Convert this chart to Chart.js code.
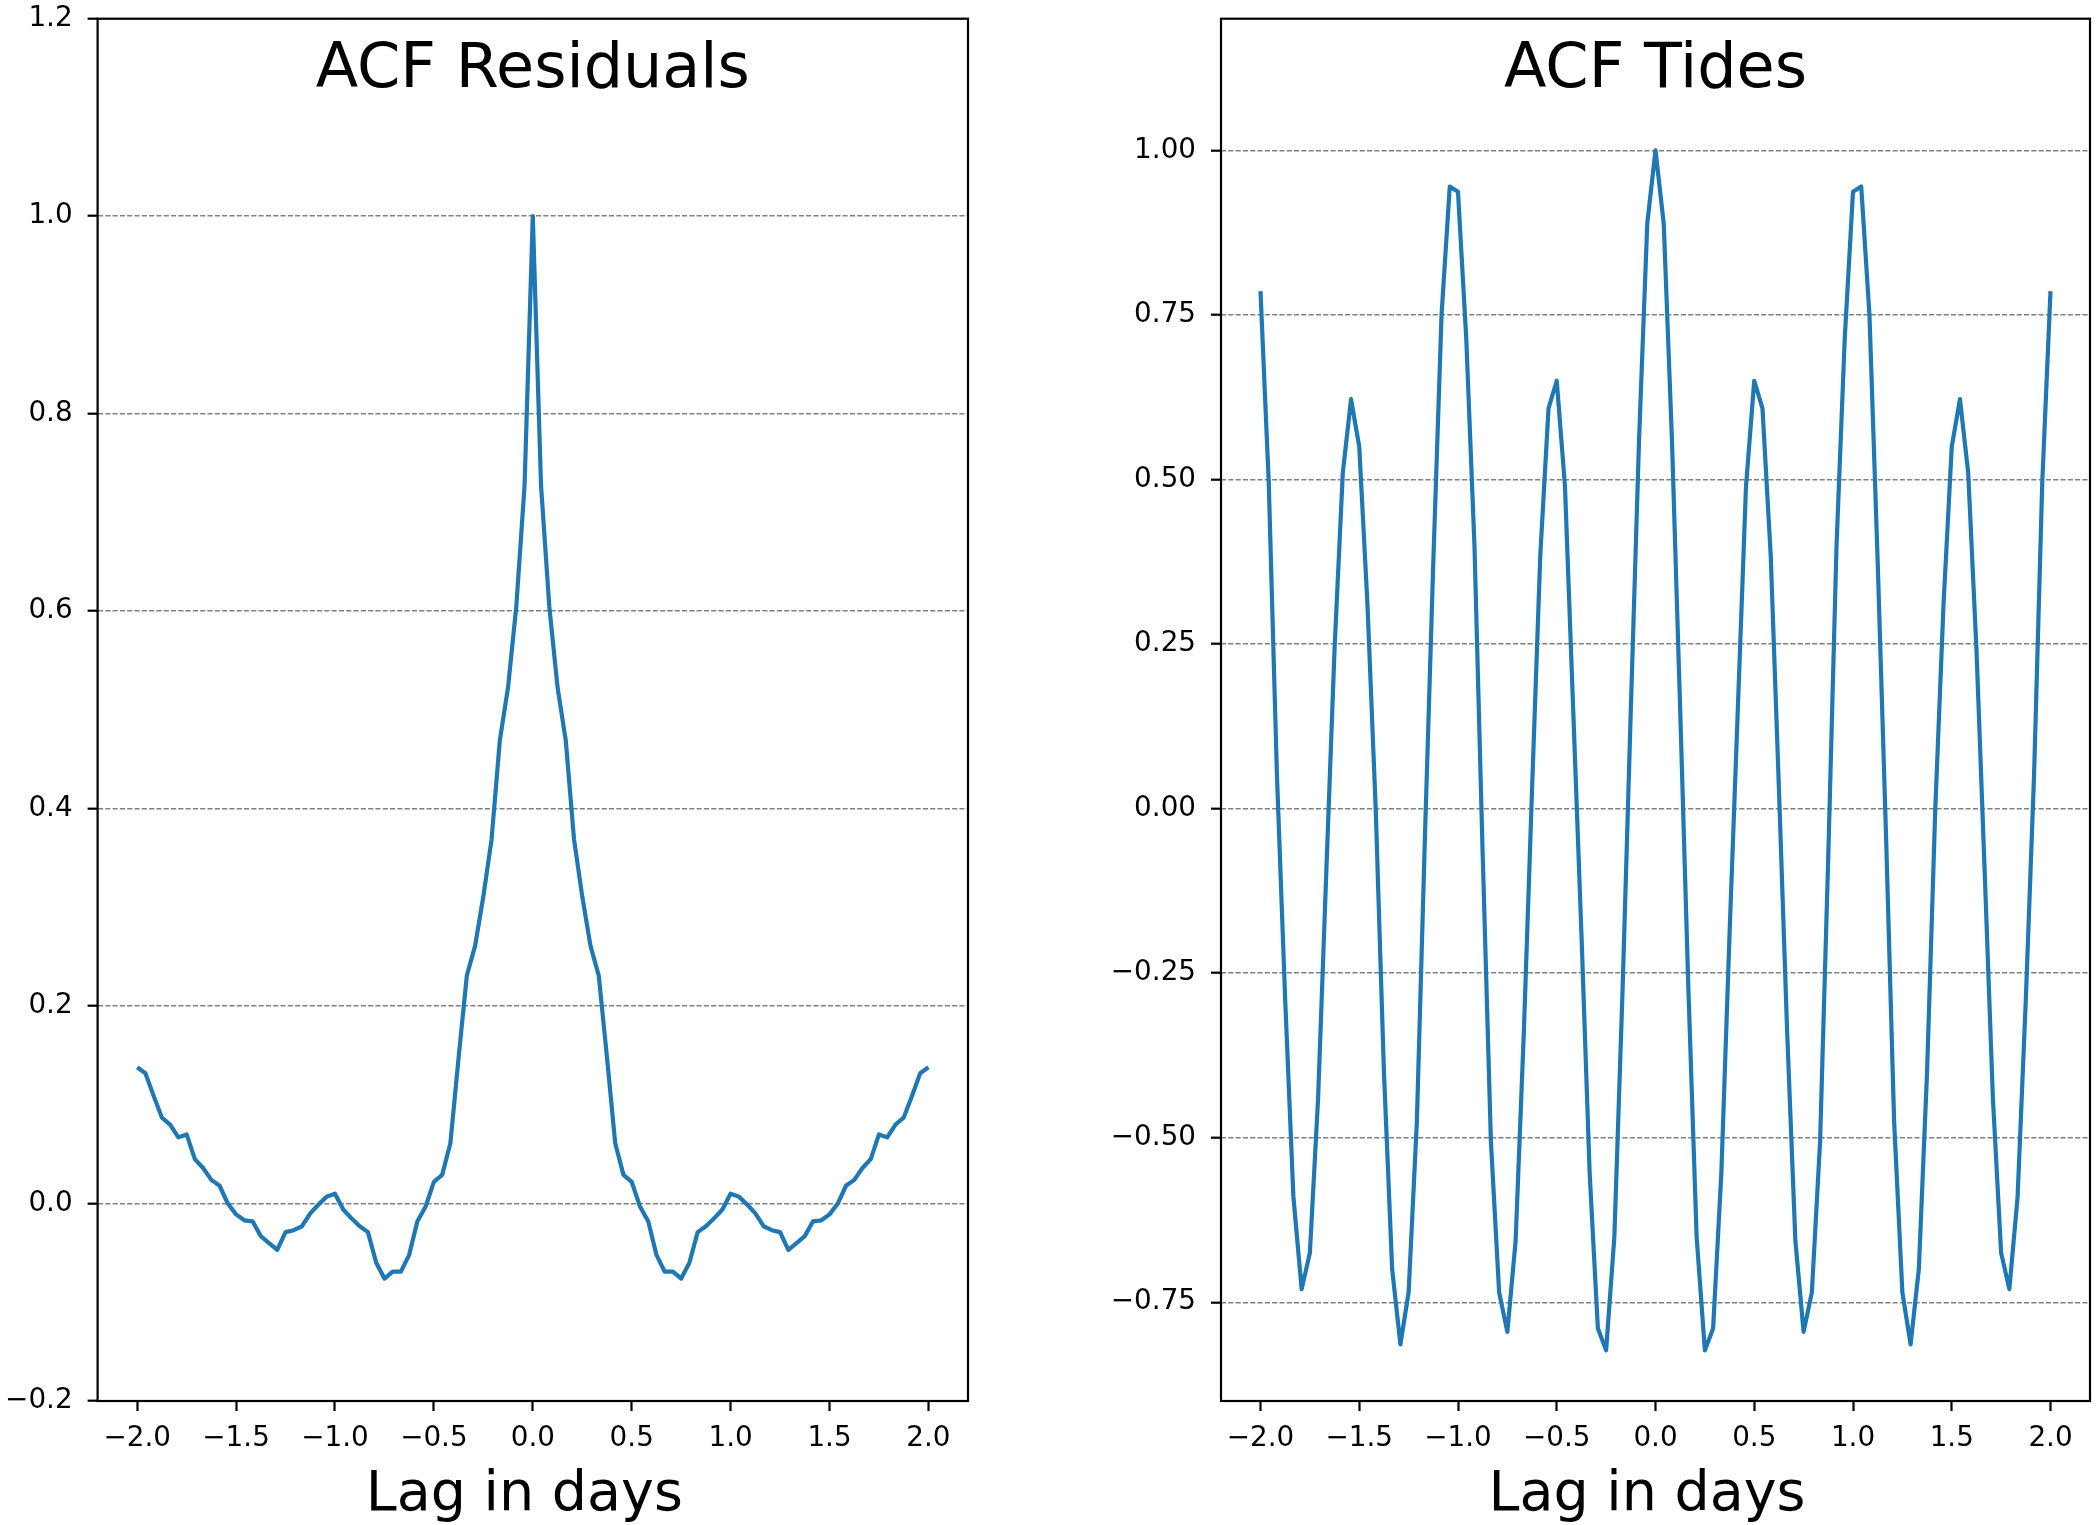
<!DOCTYPE html>
<html>
<head>
<meta charset="utf-8">
<script src="https://cdn.jsdelivr.net/npm/chart.js@4.4.1/dist/chart.umd.min.js"></script>
<style>
  html, body { margin: 0; padding: 0; background: #fff; }
  #wrap { position: relative; width: 2097px; height: 1525px; overflow: hidden; }
  canvas { position: absolute; top: 0; }
</style>
</head>
<body>
<div id="wrap">
  <canvas id="acfResiduals" width="1050" height="1525" style="left:0;width:1050px;height:1525px"></canvas>
  <canvas id="acfTides" width="1047" height="1525" style="left:1050px;width:1047px;height:1525px"></canvas>
</div>
<script>
// lag in hours (hourly samples, -2 .. +2 days)
var lagHours = [-48, -47, -46, -45, -44, -43, -42, -41, -40, -39, -38, -37, -36, -35, -34, -33,
    -32, -31, -30, -29, -28, -27, -26, -25, -24, -23, -22, -21, -20, -19, -18, -17,
    -16, -15, -14, -13, -12, -11, -10, -9, -8, -7, -6, -5, -4, -3, -2, -1,
    0, 1, 2, 3, 4, 5, 6, 7, 8, 9, 10, 11, 12, 13, 14, 15, 16,
    17, 18, 19, 20, 21, 22, 23, 24, 25, 26, 27, 28, 29, 30, 31, 32,
    33, 34, 35, 36, 37, 38, 39, 40, 41, 42, 43, 44, 45, 46, 47, 48];

var acfResiduals = [0.138, 0.132, 0.109, 0.087, 0.080, 0.067, 0.070, 0.045, 0.036, 0.024, 0.018, 0.000,
    -0.011, -0.017, -0.018, -0.033, -0.040, -0.047, -0.029, -0.027, -0.023, -0.010, -0.001, 0.007,
    0.010, -0.006, -0.015, -0.023, -0.029, -0.060, -0.076, -0.069, -0.069, -0.052, -0.018, -0.003,
    0.022, 0.029, 0.061, 0.148, 0.231, 0.261, 0.311, 0.369, 0.469, 0.523, 0.605, 0.727,
    1.000,
    0.727, 0.605, 0.523, 0.469, 0.369, 0.311, 0.261, 0.231, 0.148, 0.061, 0.029, 0.022,
    -0.003, -0.018, -0.052, -0.069, -0.069, -0.076, -0.060, -0.029, -0.023, -0.015, -0.006, 0.010,
    0.007, -0.001, -0.010, -0.023, -0.027, -0.029, -0.047, -0.040, -0.033, -0.018, -0.017, -0.011,
    0.000, 0.018, 0.024, 0.036, 0.045, 0.070, 0.067, 0.080, 0.087, 0.109, 0.132, 0.138];

var acfTides = [0.786, 0.496, 0.050, -0.290, -0.590, -0.730, -0.675, -0.440, -0.095, 0.243, 0.510, 0.622,
    0.550, 0.310, 0.000, -0.400, -0.700, -0.814, -0.735, -0.476, -0.035, 0.375, 0.750, 0.945,
    0.937, 0.715, 0.400, -0.070, -0.506, -0.735, -0.795, -0.657, -0.340, 0.030, 0.385, 0.608,
    0.650, 0.490, 0.150, -0.190, -0.554, -0.790, -0.823, -0.651, -0.275, 0.150, 0.560, 0.889,
    1.000,
    0.889, 0.560, 0.150, -0.275, -0.651, -0.823, -0.790, -0.554, -0.190, 0.150, 0.490, 0.650,
    0.608, 0.385, 0.030, -0.340, -0.657, -0.795, -0.735, -0.506, -0.070, 0.400, 0.715, 0.937,
    0.945, 0.750, 0.375, -0.035, -0.476, -0.735, -0.814, -0.700, -0.400, 0.000, 0.310, 0.550,
    0.622, 0.510, 0.243, -0.095, -0.440, -0.675, -0.730, -0.590, -0.290, 0.050, 0.496, 0.786];

var xTicks = [-2.0, -1.5, -1.0, -0.5, 0.0, 0.5, 1.0, 1.5, 2.0];
var yTicksResiduals = [-0.2, 0.0, 0.2, 0.4, 0.6, 0.8, 1.0, 1.2];
var yTicksTides = [-0.75, -0.5, -0.25, 0.0, 0.25, 0.5, 0.75, 1.0];

var FONT = "'DejaVu Sans', 'Liberation Sans', sans-serif";

function fmt(v, d) {
    return v.toFixed(d).replace('-', '\u2212');
}

// titles inside the axes + full black frame, like matplotlib
var framePlugin = {
    id: 'frame',
    afterDraw: function (chart, args, opts) {
        var a = chart.chartArea, ctx = chart.ctx;
        var cx = (a.left + a.right) / 2;
        ctx.save();
        ctx.strokeStyle = '#000';
        ctx.lineWidth = 2.2;
        ctx.strokeRect(a.left, a.top, a.right - a.left, a.bottom - a.top);
        ctx.fillStyle = '#000';
        ctx.textAlign = 'center';
        ctx.textBaseline = 'alphabetic';
        ctx.font = '62px ' + FONT;
        ctx.fillText(opts.title, cx, 87);
        ctx.font = '55.5px ' + FONT;
        ctx.fillText(opts.xlabel, cx - 8.5, 1510);
        ctx.restore();
    }
};

function makeChart(id, title, values, yTicks, yMin, yMax, dec, yWidth, padRight) {
    var points = lagHours.map(function (h, i) { return {x: h / 24, y: values[i]}; });
    return new Chart(document.getElementById(id), {
        type: 'line',
        data: {
            datasets: [{
                data: points,
                borderColor: '#1f77b4',
                borderWidth: 4.2,
                borderJoinStyle: 'round',
                pointRadius: 0,
                tension: 0,
                fill: false
            }]
        },
        options: {
            responsive: false,
            animation: false,
            layout: {padding: {left: 0, right: padRight, top: 18.7, bottom: 0}},
            plugins: {
                legend: {display: false},
                tooltip: {enabled: false},
                frame: {title: title, xlabel: 'Lag in days'}
            },
            scales: {
                x: {
                    type: 'linear',
                    min: -2.2,
                    max: 2.2,
                    afterBuildTicks: function (s) { s.ticks = xTicks.map(function (v) { return {value: v}; }); },
                    afterFit: function (s) { s.height = 124; s.paddingLeft = 0; s.paddingRight = 0; },
                    border: {display: false},
                    grid: {drawOnChartArea: false, drawTicks: true, tickLength: 10, tickColor: '#000', tickWidth: 2.2},
                    ticks: {
                        font: {family: FONT, size: 27.8},
                        color: '#000',
                        padding: 11,
                        maxRotation: 0,
                        callback: function (v) { return fmt(v, 1); }
                    }
                },
                y: {
                    type: 'linear',
                    min: yMin,
                    max: yMax,
                    afterBuildTicks: function (s) { s.ticks = yTicks.map(function (v) { return {value: v}; }); },
                    afterFit: function (s) { s.width = yWidth; s.paddingTop = 0; s.paddingBottom = 0; },
                    border: {display: false, dash: [5.1, 2.2]},
                    grid: {
                        color: '#808080',
                        lineWidth: 1.4,
                        tickLength: 10,
                        tickColor: '#000',
                        tickWidth: 2.2,
                        tickBorderDash: []
                    },
                    ticks: {
                        font: {family: FONT, size: 27.8},
                        color: '#000',
                        padding: 15,
                        callback: function (v) { return fmt(v, dec); }
                    }
                }
            }
        },
        plugins: [framePlugin]
    });
}

makeChart('acfResiduals', 'ACF Residuals', acfResiduals, yTicksResiduals, -0.2, 1.2, 1, 97.6, 82);
makeChart('acfTides', 'ACF Tides', acfTides, yTicksTides, -0.90, 1.2, 2, 171, 7);
</script>
</body>
</html>
